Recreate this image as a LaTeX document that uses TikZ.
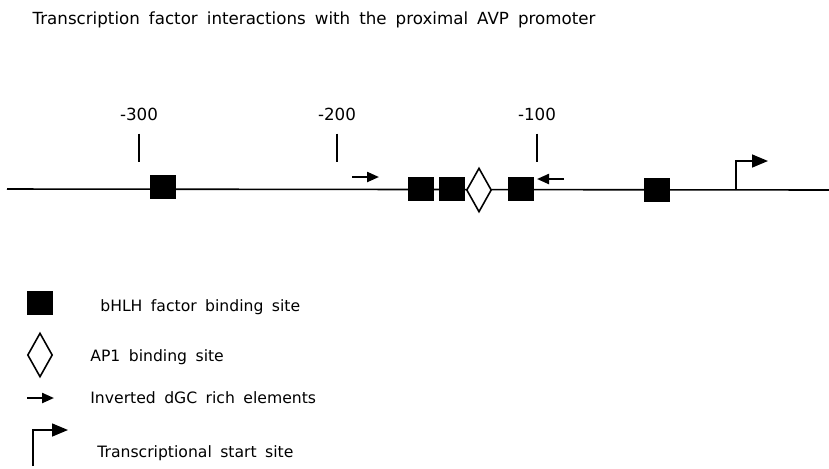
\documentclass[tikz,border=0pt]{standalone}
\usepackage{fontspec}
\setmainfont{DejaVu Sans}[WordSpace=1.7]
\usetikzlibrary{shapes.geometric,arrows.meta}

\begin{document}
\begin{tikzpicture}[x=0.02cm,y=-0.02cm,
    bhlh/.style={fill=black,inner sep=0pt,minimum width=0.52cm,minimum height=0.48cm},
    apone/.style={diamond,draw,line width=0.9pt,fill=white,inner sep=0pt,minimum width=0.5cm,minimum height=0.88cm},
    tickline/.style={line width=0.8pt},
    dgc/.style={line width=1.3pt,-{Triangle[length=0.24cm,width=0.2cm]}},
    tss/.style={line width=0.9pt,-{Triangle[length=0.32cm,width=0.26cm]}},
    lbl/.style={font=\fontsize{8.9}{10}\selectfont,anchor=west,inner sep=0pt}]
    \useasboundingbox (0,0) rectangle (829,468);
    \node[font=\fontsize{9.5}{11}\selectfont] (title) at (314,20) {Transcription factor interactions with the proximal AVP promoter};
    % promoter line
    \coordinate (lineL) at (7,189);
    \coordinate (lineR) at (829,190);
    \draw[line width=0.9pt] (lineL) -- (lineR);
    % position marks
    \foreach \x/\n in {139/300, 337/200, 537/100} {
        \node[font=\fontsize{9.5}{10}\selectfont] (m\n) at (\x,114) {-\n};
        \coordinate (tick\n) at (\x,162);
        \draw[tickline] ([yshift=-4pt]m\n.south) -- (tick\n);
    }
    % binding sites
    \foreach \x/\y [count=\i] in {163/187, 421/189, 452/189, 521/189, 657/190}
        \node[bhlh] (b\i) at (\x,\y) {};
    \node[apone] (ap) at (479,190) {};
    % dGC rich elements
    \coordinate (fwdA) at (352,177);
    \coordinate (fwdB) at (379,177);
    \draw[dgc] (fwdA) -- (fwdB);
    \coordinate (revA) at (564,179);
    \coordinate (revB) at (537,179);
    \draw[dgc] (revA) -- (revB);
    % start site
    \coordinate (tss) at (736,190);
    \coordinate (tssend) at (768,161);
    \draw[tss] (tss) |- (tssend);
    % legend
    \node[bhlh] (keyb) at (40,303) {};
    \node[lbl] (keybt) at (100,307) {bHLH factor binding site};
    \node[apone] (keyap) at (40,355) {};
    \node[lbl] (keyapt) at (90,357) {AP1 binding site};
    \coordinate (keydA) at (27,398);
    \coordinate (keydB) at (54,398);
    \draw[dgc] (keydA) -- (keydB);
    \node[lbl] (keydt) at (90,398) {Inverted dGC rich elements};
    \coordinate (keytA) at (33,466);
    \coordinate (keytB) at (68,430);
    \draw[tss] (keytA) |- (keytB);
    \node[lbl] (keytt) at (97,453) {Transcriptional start site};
\end{tikzpicture}
\end{document}
